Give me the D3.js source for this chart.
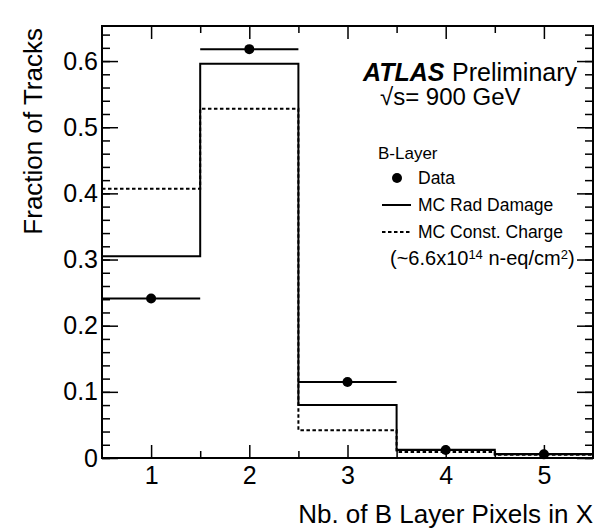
<!DOCTYPE html>
<html>
<head>
<meta charset="utf-8">
<script src="https://cdn.jsdelivr.net/npm/d3@7"></script>
<style>
  body { margin: 0; background: #fff; }
  svg text { font-family: "Liberation Sans", Arial, Helvetica, sans-serif; fill: #000; }
</style>
</head>
<body>
<div id="chart"></div>
<script>
// Bin centres and the three histograms (fraction of tracks)
const bins = [1, 2, 3, 4, 5];
const dataValues = [0.241, 0.618, 0.115, 0.012, 0.0055];
const radDamage = [0.305, 0.596, 0.080, 0.0125, 0.006];
const constCharge = [0.407, 0.528, 0.042, 0.009, 0.005];

const yMajorTicks = [0, 0.1, 0.2, 0.3, 0.4, 0.5, 0.6];
const yMinorTicks = d3.range(0, 0.66, 0.02);
const xMajorTicks = [1, 2, 3, 4, 5];
const xMinorTicks = [1.5, 2.5, 3.5, 4.5];

const margin = { top: 26, right: 3, bottom: 74, left: 102 },
    width = 596 - margin.left - margin.right,
    height = 532 - margin.top - margin.bottom;

const root = d3.select("#chart")
    .append("svg")
    .attr("width", 596)
    .attr("height", 532);

const svg = root.append("g")
    .attr("transform", `translate(${margin.left},${margin.top})`);

const x = d3.scaleLinear().domain([0.5, 5.5]).range([0, width]);
const y = d3.scaleLinear().domain([0, 0.653]).range([height, 0]);

// step outline of a histogram
function stepPoints(values) {
    const pts = [];
    values.forEach((v, i) => {
        pts.push([bins[i] - 0.5, v]);
        pts.push([bins[i] + 0.5, v]);
    });
    return pts;
}

const stepLine = d3.line()
    .x(d => x(d[0]))
    .y(d => y(d[1]));

svg.append("path")
    .datum(stepPoints(constCharge))
    .attr("d", stepLine)
    .attr("fill", "none")
    .attr("stroke", "#000")
    .attr("stroke-width", 2)
    .attr("stroke-dasharray", "3.5,2.5");

svg.append("path")
    .datum(stepPoints(radDamage))
    .attr("d", stepLine)
    .attr("fill", "none")
    .attr("stroke", "#000")
    .attr("stroke-width", 2);

// data points with bin-width error bars
const points = bins.map((b, i) => ({ bin: b, value: dataValues[i] }));

svg.selectAll("line.xerr")
    .data(points)
    .enter().append("line")
    .attr("class", "xerr")
    .attr("x1", d => x(d.bin - 0.5))
    .attr("x2", d => x(d.bin + 0.5))
    .attr("y1", d => y(d.value))
    .attr("y2", d => y(d.value))
    .attr("stroke", "#000")
    .attr("stroke-width", 2);

svg.selectAll("circle.dot")
    .data(points)
    .enter().append("circle")
    .attr("class", "dot")
    .attr("r", 5)
    .attr("cx", d => x(d.bin))
    .attr("cy", d => y(d.value))
    .attr("fill", "#000");

// axes (ticks point inward, like ROOT)
function styleAxis(g) {
    g.select(".domain").remove();
    g.selectAll(".tick line").attr("stroke", "#000").attr("stroke-width", 1.5);
    g.selectAll("text").attr("font-size", 25).attr("fill", "#000");
}

svg.append("g")
    .call(d3.axisLeft(y).tickValues(yMinorTicks).tickSize(-8).tickFormat(""))
    .call(styleAxis);
svg.append("g")
    .call(d3.axisLeft(y).tickValues(yMajorTicks).tickSize(-16).tickPadding(4)
        .tickFormat(d => d === 0 ? "0" : d3.format(".1f")(d)))
    .call(styleAxis);

svg.append("g")
    .attr("transform", `translate(${width},0)`)
    .call(d3.axisRight(y).tickValues(yMinorTicks).tickSize(-8).tickFormat(""))
    .call(styleAxis);
svg.append("g")
    .attr("transform", `translate(${width},0)`)
    .call(d3.axisRight(y).tickValues(yMajorTicks).tickSize(-16).tickFormat(""))
    .call(styleAxis);

svg.append("g")
    .attr("transform", `translate(0,${height})`)
    .call(d3.axisBottom(x).tickValues(xMinorTicks).tickSize(-7).tickFormat(""))
    .call(styleAxis);
svg.append("g")
    .attr("transform", `translate(0,${height})`)
    .call(d3.axisBottom(x).tickValues(xMajorTicks).tickSize(-13).tickPadding(8)
        .tickFormat(d3.format("d")))
    .call(styleAxis);

svg.append("g")
    .call(d3.axisTop(x).tickValues(xMinorTicks).tickSize(-7).tickFormat(""))
    .call(styleAxis);
svg.append("g")
    .call(d3.axisTop(x).tickValues(xMajorTicks).tickSize(-13).tickFormat(""))
    .call(styleAxis);

// frame
svg.append("rect")
    .attr("width", width)
    .attr("height", height)
    .attr("fill", "none")
    .attr("stroke", "#000")
    .attr("stroke-width", 2);

// axis titles
root.append("text")
    .attr("transform", "translate(42,28) rotate(-90)")
    .attr("text-anchor", "end")
    .attr("font-size", 26)
    .text("Fraction of Tracks");

root.append("text")
    .attr("x", 593)
    .attr("y", 523)
    .attr("text-anchor", "end")
    .attr("font-size", 26)
    .text("Nb. of B Layer Pixels in X");

// ATLAS label
root.append("text")
    .attr("x", 363).attr("y", 81)
    .attr("font-size", 25)
    .attr("font-weight", "bold")
    .attr("font-style", "italic")
    .text("ATLAS");
root.append("text")
    .attr("x", 452).attr("y", 81)
    .attr("font-size", 25)
    .text("Preliminary");
root.append("text")
    .attr("x", 380).attr("y", 105)
    .attr("font-size", 24)
    .text("√s= 900 GeV");

// legend
const legend = root.append("g");
legend.append("text").attr("x", 378).attr("y", 159).attr("font-size", 17).text("B-Layer");

legend.append("circle").attr("cx", 397).attr("cy", 178).attr("r", 5).attr("fill", "#000");
legend.append("text").attr("x", 418).attr("y", 184).attr("font-size", 17.5).text("Data");

legend.append("line").attr("x1", 382).attr("x2", 411).attr("y1", 205).attr("y2", 205)
    .attr("stroke", "#000").attr("stroke-width", 2);
legend.append("text").attr("x", 418).attr("y", 211).attr("font-size", 17.5).text("MC Rad Damage");

legend.append("line").attr("x1", 382).attr("x2", 411).attr("y1", 232).attr("y2", 232)
    .attr("stroke", "#000").attr("stroke-width", 2).attr("stroke-dasharray", "3.5,2.5");
legend.append("text").attr("x", 418).attr("y", 238).attr("font-size", 17.5).text("MC Const. Charge");

const flux = legend.append("text").attr("x", 390).attr("y", 265).attr("font-size", 20);
flux.append("tspan").text("(~6.6x10");
flux.append("tspan").attr("font-size", 13).attr("dy", -6).text("14");
flux.append("tspan").attr("dy", 6).text(" n-eq/cm");
flux.append("tspan").attr("font-size", 13).attr("dy", -6).text("2");
flux.append("tspan").attr("dy", 6).text(")");
</script>
</body>
</html>
